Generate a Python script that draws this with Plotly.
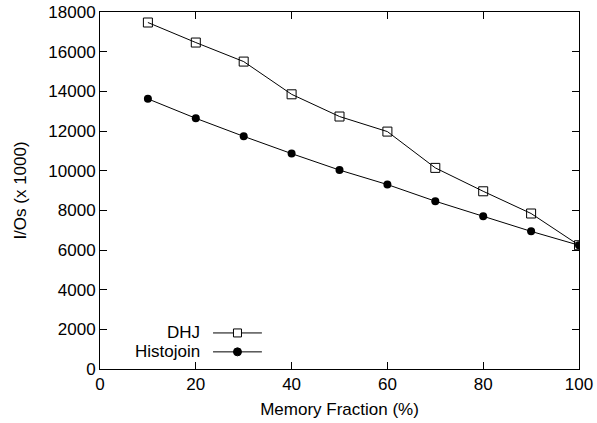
import plotly.graph_objects as go

# Memory fraction (%) and I/O counts (in thousands)
memory_fraction = [10, 20, 30, 40, 50, 60, 70, 80, 90, 100]
dhj_ios = [17470, 16460, 15500, 13850, 12730, 11970, 10140, 8960, 7840, 6240]
histojoin_ios = [13620, 12640, 11730, 10860, 10030, 9300, 8460, 7700, 6940, 6240]

x_ticks = [0, 20, 40, 60, 80, 100]
y_ticks = [0, 2000, 4000, 6000, 8000, 10000, 12000, 14000, 16000, 18000]

series_names = ["DHJ", "Histojoin"]

FONT = "Liberation Sans, Arial, Helvetica, sans-serif"
FSIZE = 17

fig = go.Figure()
fig.add_trace(go.Scatter(
    x=memory_fraction, y=dhj_ios, name=series_names[0], mode="lines+markers",
    line=dict(color="black", width=1),
    marker=dict(symbol="square-open", size=9, color="black", line=dict(width=1)),
    showlegend=False,
))
fig.add_trace(go.Scatter(
    x=memory_fraction, y=histojoin_ios, name=series_names[1], mode="lines+markers",
    line=dict(color="black", width=1),
    marker=dict(symbol="circle", size=8, color="black"),
    showlegend=False,
))

# Gnuplot-style key: label on the left, sample line with marker on the right
key_rows = [0.101, 0.048]
key_text_x = 0.213
key_line = (0.236, 0.338)
key_mark_x = 0.287
shapes = []
annotations = []
for i, name in enumerate(series_names):
    yk = key_rows[i]
    annotations.append(dict(
        x=key_text_x, y=yk, xref="paper", yref="paper", text=name,
        showarrow=False, xanchor="right", yanchor="middle",
        font=dict(family=FONT, size=FSIZE, color="black"),
    ))
    shapes.append(dict(
        type="line", xref="paper", yref="paper",
        x0=key_line[0], x1=key_line[1], y0=yk, y1=yk,
        line=dict(color="black", width=1),
    ))
    if i == 0:
        shapes.append(dict(
            type="rect", xref="paper", yref="paper",
            xsizemode="pixel", ysizemode="pixel",
            xanchor=key_mark_x, yanchor=yk,
            x0=-4, x1=4, y0=-4, y1=4,
            line=dict(color="black", width=1), fillcolor="white",
        ))
    else:
        shapes.append(dict(
            type="circle", xref="paper", yref="paper",
            xsizemode="pixel", ysizemode="pixel",
            xanchor=key_mark_x, yanchor=yk,
            x0=-4, x1=4, y0=-4, y1=4,
            line=dict(color="black", width=1), fillcolor="black",
        ))

axis_common = dict(
    showline=True, linecolor="black", linewidth=1, mirror="ticks",
    ticks="inside", ticklen=7, tickcolor="black", tickwidth=1,
    showgrid=False, zeroline=False, automargin=False,
    tickfont=dict(family=FONT, size=FSIZE, color="black"),
)

fig.update_layout(
    width=597, height=423,
    margin=dict(l=100, r=18, t=12, b=54),
    paper_bgcolor="white", plot_bgcolor="white",
    font=dict(family=FONT, size=FSIZE, color="black"),
    xaxis=dict(range=[0, 100], tickvals=x_ticks, tickformat="d",
               title=dict(text="Memory Fraction (%)", standoff=9,
                          font=dict(family=FONT, size=FSIZE)),
               **axis_common),
    yaxis=dict(range=[0, 18000], tickvals=y_ticks, tickformat="d",
               title=dict(text="I/Os (x 1000)", standoff=17,
                          font=dict(family=FONT, size=FSIZE)),
               **axis_common),
    shapes=shapes,
    annotations=annotations,
)

fig.write_html("out.html")
